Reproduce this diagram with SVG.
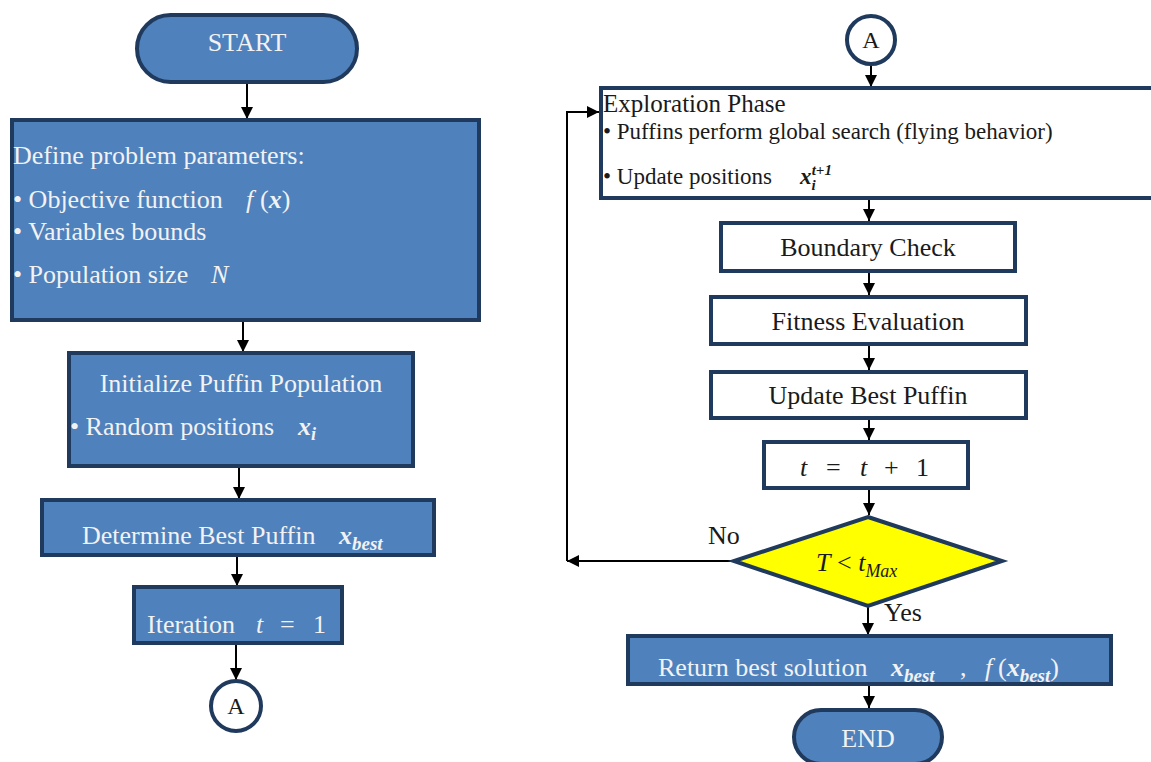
<svg xmlns="http://www.w3.org/2000/svg" width="1151" height="762" viewBox="0 0 1151 762">
<defs>
<marker id="arr" markerUnits="userSpaceOnUse" markerWidth="12" markerHeight="12" viewBox="0 0 10 10" refX="10" refY="5" orient="auto">
<path d="M0,0 L10,5 L0,10 z" fill="#000"/>
</marker>
<style>
.blue{fill:#4f81bd;stroke:#1f3a5c;stroke-width:4}
.white{fill:#fff;stroke:#1f3a5c;stroke-width:4}
.yel{fill:#ffff00;stroke:#1f3a5c;stroke-width:4}
.tw{font-family:"Liberation Serif",serif;font-size:26px;fill:#f2f2f2}
.tb{font-family:"Liberation Serif",serif;font-size:26px;fill:#1a1a1a}
.m{font-style:italic}
.mb{font-style:italic;font-weight:bold}
.c{text-anchor:middle}
.ln{fill:none;stroke:#000;stroke-width:2}
</style>
</defs>
<rect width="1151" height="762" fill="#fff"/>

<g id="connectors">
<line class="ln" x1="247" y1="83" x2="247" y2="119" marker-end="url(#arr)"/>
<line class="ln" x1="243" y1="320" x2="243" y2="352" marker-end="url(#arr)"/>
<line class="ln" x1="239" y1="466" x2="239" y2="499" marker-end="url(#arr)"/>
<line class="ln" x1="237" y1="555" x2="237" y2="586" marker-end="url(#arr)"/>
<line class="ln" x1="236" y1="643" x2="236" y2="680" marker-end="url(#arr)"/>
<line class="ln" x1="871" y1="64" x2="871" y2="87" marker-end="url(#arr)"/>
<line class="ln" x1="869" y1="199" x2="869" y2="221" marker-end="url(#arr)"/>
<line class="ln" x1="869" y1="271" x2="869" y2="295" marker-end="url(#arr)"/>
<line class="ln" x1="869" y1="344" x2="869" y2="370" marker-end="url(#arr)"/>
<line class="ln" x1="869" y1="418" x2="869" y2="440" marker-end="url(#arr)"/>
<line class="ln" x1="869" y1="488" x2="869" y2="515" marker-end="url(#arr)"/>
<line class="ln" x1="868" y1="607" x2="868" y2="635" marker-end="url(#arr)"/>
<line class="ln" x1="869" y1="684" x2="869" y2="708" marker-end="url(#arr)"/>
<line class="ln" x1="733" y1="561" x2="567" y2="561" marker-end="url(#arr)"/>
<polyline class="ln" points="567,561 567,112 599,112" marker-end="url(#arr)"/>
<text class="tb" x="708" y="544">No</text>
<text class="tb" x="884" y="621">Yes</text>
</g>

<g id="start">
<rect class="blue" x="137" y="15" width="220" height="67" rx="33.5"/>
<text class="tw c" x="247" y="51">START</text>
</g>

<g id="define">
<rect class="blue" x="12" y="120" width="467" height="200"/>
<text class="tw" x="13" y="164">Define problem parameters:</text>
<text class="tw" x="13" y="208">• Objective function <tspan class="m" x="246">f</tspan><tspan x="260">(</tspan><tspan class="mb">x</tspan>)</text>
<text class="tw" x="13" y="240">• Variables bounds</text>
<text class="tw" x="13" y="283">• Population size <tspan class="m" x="211">N</tspan></text>
</g>

<g id="init">
<rect class="blue" x="69" y="353" width="344" height="113"/>
<text class="tw c" x="241" y="392">Initialize Puffin Population</text>
<text class="tw" x="70" y="435">• Random positions <tspan class="mb" x="298">x</tspan><tspan class="mb" style="font-size:18px" dy="5">i</tspan></text>
</g>

<g id="determine">
<rect class="blue" x="42" y="500" width="392" height="55"/>
<text class="tw" x="82" y="544">Determine Best Puffin <tspan class="mb" x="339">x</tspan><tspan class="mb" style="font-size:19px" dy="6">best</tspan></text>
</g>

<g id="iteration">
<rect class="blue" x="134" y="587" width="208" height="56"/>
<text class="tw" x="147" y="633">Iteration <tspan class="m" x="256">t</tspan><tspan x="280">=</tspan><tspan x="313">1</tspan></text>
</g>

<g id="connA1">
<circle cx="236" cy="706" r="25" fill="#fff" stroke="#1f3a5c" stroke-width="4"/>
<text class="tb c" x="236" y="714" style="font-size:24px">A</text>
</g>

<g id="connA2">
<circle cx="871" cy="40" r="24" fill="#fff" stroke="#1f3a5c" stroke-width="4"/>
<text class="tb c" x="871" y="48" style="font-size:24px">A</text>
</g>

<g id="exploration">
<rect class="white" x="601" y="88" width="580" height="110"/>
<text class="tb" x="603" y="112" style="font-size:25px">Exploration Phase</text>
<text class="tb" x="603" y="139" style="font-size:23px">• Puffins perform global search (flying behavior)</text>
<text class="tb" x="603" y="184" style="font-size:23px">• Update positions <tspan class="mb" x="800">x</tspan><tspan class="mb" style="font-size:15px" dy="6">i</tspan><tspan class="mb" style="font-size:15px" dx="-4" dy="-15">t+1</tspan></text>
</g>

<g id="boundary">
<rect class="white" x="721" y="223" width="294" height="48"/>
<text class="tb c" x="868" y="256">Boundary Check</text>
</g>

<g id="fitness">
<rect class="white" x="711" y="297" width="315" height="47"/>
<text class="tb c" x="868" y="330">Fitness Evaluation</text>
</g>

<g id="updatebest">
<rect class="white" x="711" y="372" width="315" height="46"/>
<text class="tb c" x="868" y="404">Update Best Puffin</text>
</g>

<g id="tinc">
<rect class="white" x="764" y="442" width="204" height="46"/>
<text class="tb" x="800" y="476"><tspan class="m">t</tspan><tspan x="826">=</tspan><tspan class="m" x="860">t</tspan><tspan x="884">+</tspan><tspan x="916">1</tspan></text>
</g>

<g id="decision">
<polygon class="yel" points="868,517 1002,561 868,606 734,561"/>
<text class="tb" x="816" y="571"><tspan class="m">T</tspan> &lt; <tspan class="m">t</tspan><tspan class="m" style="font-size:18px" dy="6">Max</tspan></text>
</g>

<g id="return">
<rect class="blue" x="628" y="636" width="483" height="48"/>
<text class="tw" x="658" y="676">Return best solution <tspan class="mb" x="891">x</tspan><tspan class="mb" style="font-size:19px" dy="6">best</tspan><tspan dy="-6" x="960">,</tspan><tspan class="m" x="985">f</tspan><tspan x="998">(</tspan><tspan class="mb">x</tspan><tspan class="mb" style="font-size:19px" dy="6">best</tspan><tspan dy="-6">)</tspan></text>
</g>

<g id="end">
<rect class="blue" x="794" y="710" width="148" height="54" rx="27"/>
<text class="tw c" x="868" y="747">END</text>
</g>
</svg>
